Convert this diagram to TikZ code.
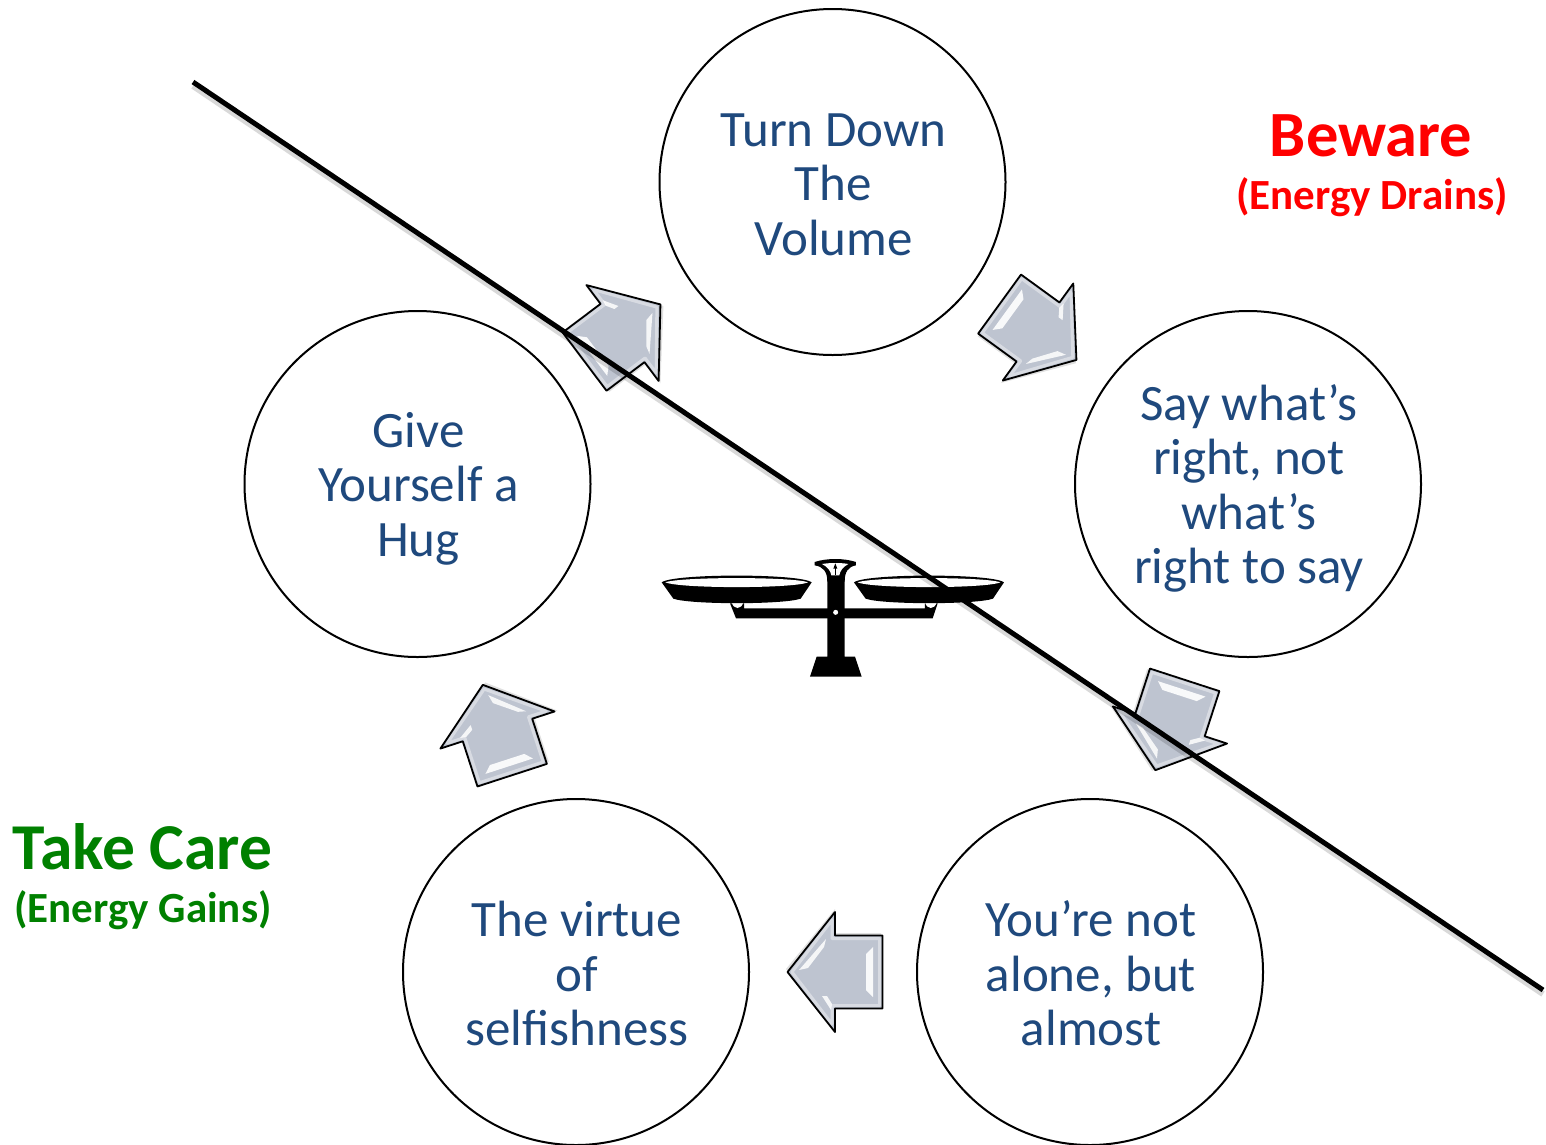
\documentclass[tikz,border=0pt]{standalone}
\usepackage{fontspec}
\setmainfont{Carlito}
\definecolor{txtblue}{HTML}{1F497D}
\definecolor{arrowfill}{HTML}{BEC4D0}
\definecolor{takegreen}{HTML}{008000}
\tikzset{
  x=1pt,y=-1pt,
  bubble/.style={circle,draw=black,line width=2pt,minimum size=346pt,inner sep=0pt},
  bubbletext/.style={align=center,text=txtblue,inner sep=0pt,xshift=1pt,yshift=-2.5pt,
    font=\fontsize{51}{54.5}\selectfont},
  bigred/.style={text=red,font=\fontsize{64.5}{66}\bfseries\selectfont},
  smallred/.style={text=red,font=\fontsize{43}{44}\bfseries\selectfont},
  biggreen/.style={text=takegreen,font=\fontsize{65.5}{66}\bfseries\selectfont},
  smallgreen/.style={text=takegreen,font=\fontsize{43}{44}\bfseries\selectfont},
  pics/glossy/.style={code={
    \path[fill=black,opacity=.12] (-46,-33) -- (0,-33) -- (0,-57) -- (49,3) -- (0,63) -- (0,39) -- (-46,39) -- cycle;
    \path[fill=arrowfill] (-47.5,-36.5) -- (0,-36.5) -- (0,-60) -- (47.5,0) -- (0,60) -- (0,36.5) -- (-47.5,36.5) -- cycle;
    \draw[white,opacity=.4,line width=3pt,line join=round] (-44.5,-33.5) -- (3,-33.5) -- (3,-52) -- (43,0) -- (3,52) -- (3,33.5) -- (-44.5,33.5) -- cycle;
    \fill[white,opacity=.9] (-38,-25) -- (-38,25) -- (-31,18) -- (-31,-18) -- cycle;
    \fill[white,opacity=.85] (36,2) -- (9,33) -- (11,25) -- (27,4) -- cycle;
    \fill[white,opacity=.85] (13,-24) -- (4,-38) -- (3,-32) -- (8,-24) -- cycle;
    \draw[black,line width=1.8pt,line join=round] (-47.5,-36.5) -- (0,-36.5) -- (0,-60) -- (47.5,0) -- (0,60) -- (0,36.5) -- (-47.5,36.5) -- cycle;
  }},
}
\begin{document}
\begin{tikzpicture}[x=1pt,y=-1pt]
\clip (0,0) rectangle (1546,1144);
\fill[white] (0,0) rectangle (1546,1144);
% circles
\node[bubble] (turn) at (832.5,182) {};
\node[bubble] (say) at (1248,484) {};
\node[bubble] (alone) at (1090,972) {};
\node[bubble] (virtue) at (576,972) {};
\node[bubble] (give) at (417.5,484) {};
\node[bubbletext] (turnT) at (turn.center) {Turn Down\\The\\Volume};
\node[bubbletext,yshift=-2pt] (sayT) at (say.center) {Say what’s\\right, not\\what’s\\right to say};
\node[bubbletext,yshift=1pt] (aloneT) at (alone.center) {You’re not\\alone, but\\almost};
\node[bubbletext,yshift=1pt] (virtueT) at (virtue.center) {The virtue\\of\\selfishness};
\node[bubbletext,yshift=-2pt] (giveT) at (give.center) {Give\\Yourself a\\Hug};
% block arrows
\pic[rotate=37] at (622.5,333) {glossy};
\pic[rotate=-36] at (1038,332) {glossy};
\pic[rotate=-108] at (1170,725) {glossy};
\pic[rotate=180] at (835,972) {glossy};
\pic[rotate=108] at (497.5,730) {glossy};
% balance
\begin{scope}[shift={(640,540)},x=0.3333pt,y=-0.3333pt]
  \fill[black] (562,100) -- (614,100) -- (614,350) -- (645,350) -- (665,410) -- (510,410) -- (530,350) -- (562,350) -- cycle;
  \fill[black] (524,66) .. controls (560,54) and (612,54) .. (648,66) -- (648,76) .. controls (625,80) and (614,95) .. (614,125) -- (562,125) .. controls (562,95) and (550,80) .. (524,76) -- cycle;
  \fill[white] (546,72) .. controls (570,68) and (604,68) .. (625,72) .. controls (610,80) and (600,92) .. (598,106) -- (574,106) .. controls (572,92) and (562,80) .. (546,72) -- cycle;
  \draw[black,line width=1.2pt] (586,104) -- (586,80);
  \fill[black] (586,70) -- (592,86) -- (580,86) -- cycle;
  \fill[black] (270,190) -- (312,190) -- (312,205) -- (855,205) -- (855,190) -- (893,190) -- (878,235) -- (288,235) -- cycle;
  \fill[white] (275,186) .. controls (280,210) and (305,210) .. (310,186) -- cycle;
  \fill[white] (855,186) .. controls (860,210) and (885,210) .. (890,186) -- cycle;
  \foreach \ox in {0,577}{
    \fill[black] (65+\ox,127) .. controls (100+\ox,100) and (480+\ox,100) .. (515+\ox,127) -- (482+\ox,176) .. controls (430+\ox,194) and (150+\ox,194) .. (100+\ox,176) -- cycle;
    \fill[white] (76+\ox,127) .. controls (120+\ox,110) and (460+\ox,110) .. (504+\ox,127) .. controls (460+\ox,146) and (120+\ox,146) .. (76+\ox,127) -- cycle;
  }
  \fill[white] (587,217) circle[radius=7.5];
\end{scope}
% dividing line
\coordinate (lineA) at (193,82);
\coordinate (lineB) at (1543,990);
\draw[black,opacity=.15,line width=6pt] ([shift={(0,4)}]lineA) -- ([shift={(0,4)}]lineB);
\draw[black,line width=5pt] (lineA) -- (lineB);
% labels
\node[bigred] (beware) at (1371,136) {Beware};
\node[smallred] (drains) at (1372,197) {(Energy Drains)};
\node[biggreen] (care) at (142.5,847) {Take Care};
\node[smallgreen] (gains) at (143,910) {(Energy Gains)};
\end{tikzpicture}
\end{document}
